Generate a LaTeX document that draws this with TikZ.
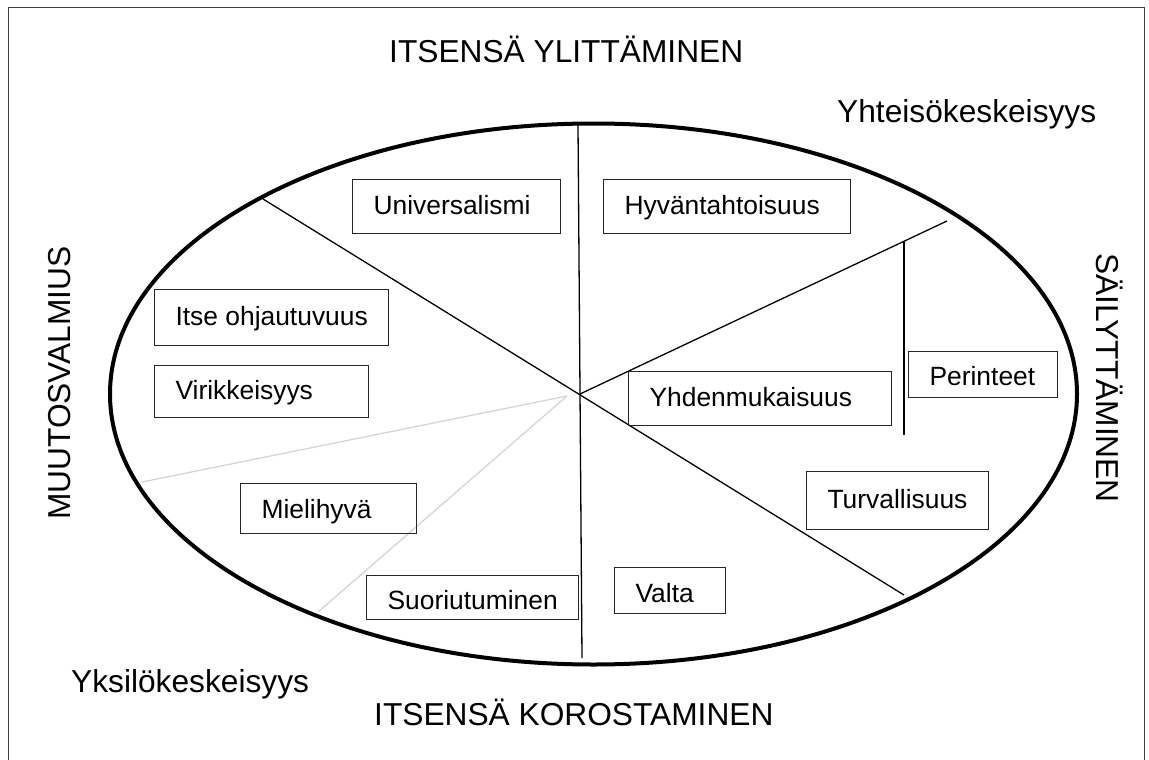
\documentclass[tikz,border=0pt]{standalone}
\usepackage{fontspec}
\setmainfont{Liberation Sans}
\newcommand\boxtxt[2]{\makebox[#1pt][l]{#2}}
\tikzset{
  valuebox/.style={draw=black!85, line width=1.1pt, inner xsep=21pt, inner ysep=0pt,
    anchor=north west, font=\fontsize{26.4}{30}\selectfont, text height=20pt, text depth=5pt},
  lowtext/.style={text height=#1, text depth=0pt},
  biglabel/.style={font=\fontsize{31.7}{36}\selectfont, inner sep=0pt},
  divider/.style={line width=1.3pt, black},
  faint/.style={line width=1.3pt, color=black!17},
  frameline/.style={line width=1pt, black!75},
  rim/.style={line width=4pt, black},
}
\begin{document}
\begin{tikzpicture}[x=1pt,y=-1pt]
\useasboundingbox (0,0) rectangle (1149,760);
% frame
\draw[frameline] (8,770) -- (8,8) -- (1144,8) -- (1144,770);
% named points
\coordinate (c) at (580,394);
\coordinate (cg) at (567,396);
\coordinate (vtop) at (578,125);
\coordinate (vbot) at (582,658);
\coordinate (ul) at (263,199);
\coordinate (lr) at (904,595);
\coordinate (ur) at (947,221);
\coordinate (ptop) at (904,242);
\coordinate (pbot) at (904,435);
\coordinate (gl) at (142,482);
\coordinate (gb) at (318,612);
% faint lines
\draw[faint] (cg) -- (gl);
\draw[faint] (cg) -- (gb);
% dividers
\draw[divider] (vtop) -- (vbot);
\draw[divider] (ul) -- (lr);
\draw[divider] (c) -- (ur);
\draw[divider] (ptop) -- (pbot);
% ellipse
\draw[rim] (593.5,394) ellipse [x radius=483.5, y radius=270.5];
% value boxes
\node[valuebox, minimum height=54pt, fill=white] (uni) at (352,179) {\boxtxt{166}{Universalismi}};
\node[valuebox, minimum height=54pt, fill=white] (hyv) at (603,179) {\boxtxt{205}{Hyväntahtoisuus}};
\node[valuebox, minimum height=56pt, fill=white, text height=21pt] (itse) at (154,289) {\boxtxt{192}{Itse ohjautuvuus}};
\node[valuebox, minimum height=52pt, fill=white, text height=21pt] (viri) at (154,365) {\boxtxt{172}{Virikkeisyys}};
\node[valuebox, minimum height=54pt] (yhd) at (628,371) {\boxtxt{221}{Yhdenmukaisuus}};
\node[valuebox, minimum height=46pt, fill=white, lowtext=22pt] (per) at (908,351) {\boxtxt{107}{Perinteet}};
\node[valuebox, minimum height=50pt, lowtext=20pt] (mieli) at (240,483) {\boxtxt{134}{Mielihyvä}};
\node[valuebox, minimum height=44pt, lowtext=24pt] (suor) at (366,575) {\boxtxt{170}{Suoriutuminen}};
\node[valuebox, minimum height=46pt, fill=white, lowtext=24pt] (valta) at (614,567) {\boxtxt{69}{Valta}};
\node[valuebox, minimum height=58pt, fill=white] (turv) at (806,471) {\boxtxt{140}{Turvallisuus}};
% big labels
\node[biglabel, anchor=base west] (ylitt) at (389,63) {ITSENSÄ YLITTÄMINEN};
\node[biglabel, anchor=base west] (korost) at (374,725) {ITSENSÄ KOROSTAMINEN};
\node[biglabel, anchor=base west] (yhteiso) at (837,122) {Yhteisökeskeisyys};
\node[biglabel, anchor=base west] (yksilo) at (71,692) {Yksilökeskeisyys};
\node[biglabel, anchor=base, rotate=90] (muutos) at (70,383) {MUUTOSVALMIUS};
\node[biglabel, anchor=base, rotate=-90] (sailyt) at (1096,378) {SÄILYTTÄMINEN};
\end{tikzpicture}
\end{document}
